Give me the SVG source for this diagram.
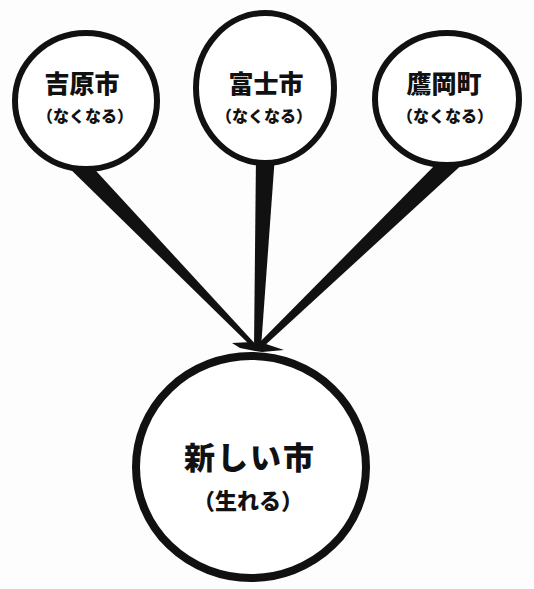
<svg xmlns="http://www.w3.org/2000/svg" width="534" height="589" viewBox="0 0 534 589">
<style>
.ring{fill:#fff;stroke:#111;stroke-width:6}
.big{fill:#fff;stroke:#111;stroke-width:8}
.wedge{fill:#111;stroke:none}
text{font-family:"Noto Sans CJK JP","Noto Sans CJK SC",sans-serif;font-weight:900;fill:#111;text-anchor:middle}
.t{font-size:25px}
.s{font-size:16px}
.bt{font-size:31px;letter-spacing:2px}
.bs{font-size:22px}
</style>
<rect width="534" height="589" fill="#fdfdfd"/>
<g id="connectors">
<polygon class="wedge" points="61,160 86,160 259,348 252,347"/>
<polygon class="wedge" points="256,155 275,155 261,348 254,348"/>
<polygon class="wedge" points="440,160 467,160 262,348 255,347"/>
<path class="wedge" d="M232,343 L252,342 L258,346 L266,344 L284,350 L262,352 L255,351 L240,348 Z"/>
</g>
<g id="yoshiwara">
<ellipse class="ring" cx="86" cy="101" rx="71" ry="68"/>
<text class="t" x="82" y="93">吉原市</text>
<text class="s" x="85" y="122">（なくなる）</text>
</g>
<g id="fuji">
<ellipse class="ring" cx="265" cy="88" rx="69" ry="75"/>
<text class="t" x="266" y="93">富士市</text>
<text class="s" x="264" y="122">（なくなる）</text>
</g>
<g id="takaoka">
<ellipse class="ring" cx="447" cy="99" rx="72" ry="66"/>
<text class="t" x="444" y="93">鷹岡町</text>
<text class="s" x="445" y="122">（なくなる）</text>
</g>
<g id="new-city">
<ellipse class="big" cx="251" cy="467" rx="115" ry="111"/>
<text class="bt" x="250" y="469">新しい市</text>
<text class="bs" x="248" y="509">（生れる）</text>
</g>
</svg>
